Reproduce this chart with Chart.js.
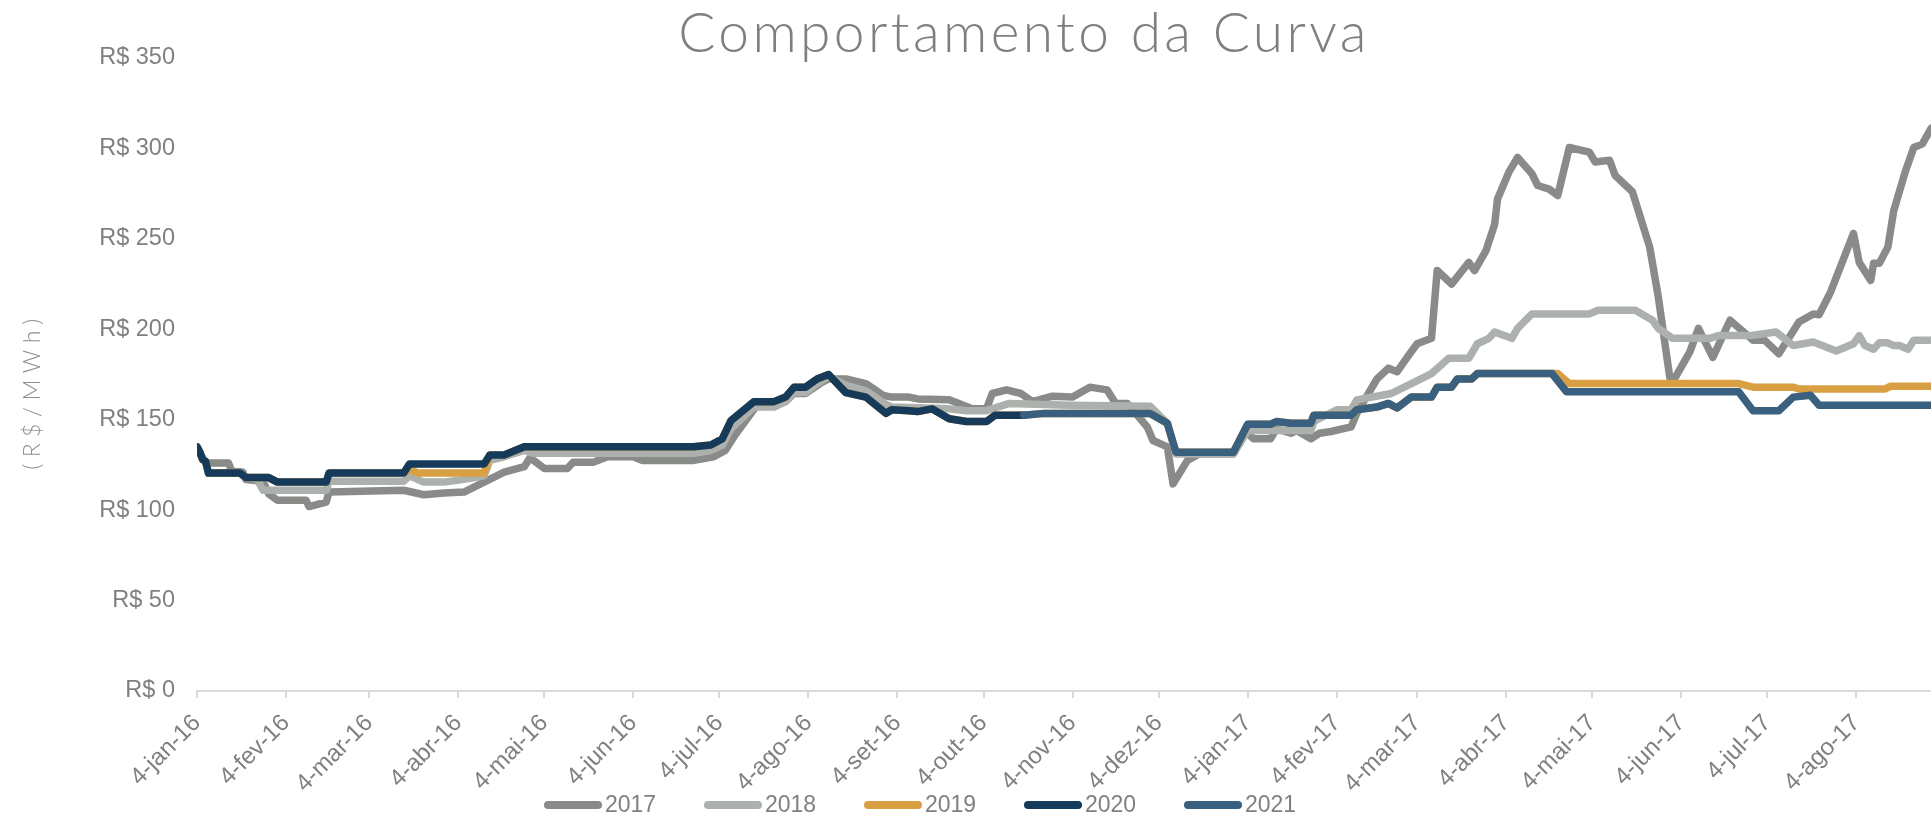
<!DOCTYPE html>
<html lang="pt-BR">
<head>
<meta charset="utf-8">
<title>Comportamento da Curva</title>
<script src="https://cdn.jsdelivr.net/npm/chart.js@4.4.1/dist/chart.umd.min.js"></script>
<style>
  html, body { margin: 0; padding: 0; background: #ffffff; }
  #box { width: 1931px; height: 819px; }
</style>
</head>
<body>
<div id="box"><canvas id="curva"></canvas></div>
<script>
// preços (R$/MWh) de cada produto anual ao longo das datas de negociação
const anos = ["2017", "2018", "2019", "2020", "2021"];
const cores = ["#898b88", "#adb1ad", "#d8a043", "#163a5a", "#3a607f"];

const rotulosX = ["4-jan-16", "4-fev-16", "4-mar-16", "4-abr-16", "4-mai-16", "4-jun-16",
  "4-jul-16", "4-ago-16", "4-set-16", "4-out-16", "4-nov-16", "4-dez-16",
  "4-jan-17", "4-fev-17", "4-mar-17", "4-abr-17", "4-mai-17", "4-jun-17",
  "4-jul-17", "4-ago-17"];

const serie2017 = [
  ["2016-01-04",135],["2016-01-05",132],["2016-01-06",128],["2016-01-07",127],["2016-01-08",126],
  ["2016-01-15",126],["2016-01-16",122],["2016-01-20",121],["2016-01-21",117],["2016-01-27",116],
  ["2016-01-29",109],["2016-02-01",105.5],["2016-02-11",105.5],["2016-02-12",102],["2016-02-18",104.5],
  ["2016-02-19",110],["2016-03-16",111],["2016-03-23",108.5],["2016-03-30",109.5],["2016-04-06",110],
  ["2016-04-13",115.5],["2016-04-20",121],["2016-04-27",124],["2016-04-29",129],["2016-05-04",123],
  ["2016-05-12",123],["2016-05-14",126.5],["2016-05-21",126.5],["2016-05-26",129.5],["2016-06-04",129.5],
  ["2016-06-07",127.5],["2016-06-25",127.5],["2016-07-02",129.5],["2016-07-06",133],["2016-07-09",140.5],
  ["2016-07-15",153.5],["2016-07-17",158],["2016-07-23",158],["2016-07-27",160],["2016-07-30",164.5],
  ["2016-08-03",164.5],["2016-08-08",170],["2016-08-11",172.5],["2016-08-17",172.5],["2016-08-24",170],
  ["2016-08-30",163.5],["2016-09-02",162.5],["2016-09-08",162.5],["2016-09-11",161.5],["2016-09-22",161],
  ["2016-09-30",156],["2016-10-05",156],["2016-10-07",164.5],["2016-10-12",166.5],["2016-10-17",164.5],
  ["2016-10-21",160],["2016-10-28",163],["2016-11-04",162.5],["2016-11-10",168],["2016-11-16",166.5],
  ["2016-11-19",159],["2016-11-23",159],["2016-11-30",146],["2016-12-02",138.5],["2016-12-07",135],
  ["2016-12-09",114.5],["2016-12-14",127.5],["2016-12-18",131],["2016-12-30",131],["2017-01-03",144],
  ["2017-01-06",139.5],["2017-01-12",139.5],["2017-01-14",145],["2017-01-19",142.5],["2017-01-21",144],
  ["2017-01-26",139.5],["2017-01-29",142.5],["2017-02-02",143.5],["2017-02-09",146],["2017-02-11",153.5],
  ["2017-02-13",159],["2017-02-18",172.5],["2017-02-22",178.5],["2017-02-25",176.5],["2017-03-01",185.5],
  ["2017-03-04",192],["2017-03-09",195],["2017-03-11",232.5],["2017-03-16",225],["2017-03-22",237],
  ["2017-03-24",232.5],["2017-03-28",243.5],["2017-03-31",258],["2017-04-01",272],["2017-04-05",287],
  ["2017-04-08",295],["2017-04-13",286],["2017-04-15",279.5],["2017-04-19",277.5],["2017-04-22",274],
  ["2017-04-26",300.5],["2017-05-03",298],["2017-05-05",292.5],["2017-05-10",293.5],["2017-05-12",285],
  ["2017-05-18",276],["2017-05-24",245.5],["2017-05-27",218],["2017-05-31",173.5],["2017-06-02",173.5],
  ["2017-06-07",187.5],["2017-06-10",200.5],["2017-06-15",184.5],["2017-06-21",205],["2017-06-29",194],
  ["2017-07-03",194],["2017-07-08",186.5],["2017-07-15",204],["2017-07-20",208.5],["2017-07-22",208],
  ["2017-07-26",220.5],["2017-08-03",253],["2017-08-05",237],["2017-08-09",227],["2017-08-10",236.5],
  ["2017-08-12",236.5],["2017-08-15",245.5],["2017-08-17",265.5],["2017-08-21",287],["2017-08-24",300.5],
  ["2017-08-27",302.5],["2017-08-30",311]
];

const serie2018 = [
  ["2016-01-04",135],["2016-01-05",132],["2016-01-06",128],["2016-01-07",127],["2016-01-08",120.5],
  ["2016-01-19",120.5],["2016-01-21",118],["2016-01-25",117],["2016-01-27",111],["2016-02-18",111],
  ["2016-02-19",116],["2016-03-16",116],["2016-03-18",119],["2016-03-23",115.5],["2016-03-30",115.5],
  ["2016-04-06",117],["2016-04-13",119],["2016-04-15",127.5],["2016-04-20",129.5],["2016-04-27",133],
  ["2016-04-30",131.5],["2016-06-25",131.5],["2016-07-01",133],["2016-07-05",136],["2016-07-08",145],
  ["2016-07-16",157],["2016-07-23",157],["2016-07-27",160],["2016-07-30",165],["2016-08-03",165],
  ["2016-08-07",170],["2016-08-11",174],["2016-08-17",169],["2016-08-24",166],["2016-08-31",158.5],
  ["2016-09-02",157],["2016-09-22",156],["2016-09-28",155],["2016-10-05",155],["2016-10-13",159],
  ["2016-11-03",158],["2016-12-01",157.5],["2016-12-07",148],["2016-12-10",131],["2016-12-30",131],
  ["2017-01-04",144],["2017-01-26",144],["2017-01-27",149],["2017-02-04",155.5],["2017-02-09",155.5],
  ["2017-02-11",161],["2017-02-23",164.5],["2017-03-02",170],["2017-03-09",175.5],["2017-03-15",184],
  ["2017-03-22",184],["2017-03-25",192],["2017-03-29",195],["2017-03-31",198.5],["2017-04-06",195],
  ["2017-04-08",200.5],["2017-04-13",208.5],["2017-05-03",208.5],["2017-05-06",210.5],["2017-05-19",210.5],
  ["2017-05-25",205],["2017-05-27",200.5],["2017-06-01",195],["2017-06-14",195],["2017-06-17",196.5],
  ["2017-06-28",196.5],["2017-07-07",198.5],["2017-07-13",191],["2017-07-20",193],["2017-07-28",188],
  ["2017-08-03",192],["2017-08-05",196.5],["2017-08-07",191],["2017-08-10",189],["2017-08-12",192.5],
  ["2017-08-15",192.5],["2017-08-17",191],["2017-08-19",191],["2017-08-22",189],["2017-08-24",194],
  ["2017-08-30",194]
];

const serie2019 = [
  ["2016-01-04",135],["2016-01-05",132],["2016-01-06",128],["2016-01-07",127],["2016-01-08",120.5],
  ["2016-01-19",120.5],["2016-01-21",118],["2016-01-29",118],["2016-02-01",115.5],["2016-02-18",115.5],
  ["2016-02-19",120.5],["2016-03-16",120.5],["2016-03-18",122.5],["2016-03-21",120.5],["2016-04-13",120.5],
  ["2016-04-15",130.5],["2016-04-20",130.5],["2016-04-27",135],["2016-06-25",135],["2016-07-01",136],
  ["2016-07-05",139.5],["2016-07-08",149.5],["2016-07-16",160],["2016-07-23",160],["2016-07-27",162.5],
  ["2016-07-30",168],["2016-08-03",168],["2016-08-07",172.5],["2016-08-11",175],["2016-08-17",165],
  ["2016-08-24",162.5],["2016-08-31",153.5],["2016-09-02",155.5],["2016-09-08",155],["2016-09-11",154.5],
  ["2016-09-16",156],["2016-09-22",150.5],["2016-09-28",149],["2016-10-05",149],["2016-10-08",152.5],
  ["2016-10-18",152.5],["2016-10-25",153.5],["2016-12-01",153.5],["2016-12-07",148],["2016-12-10",132],
  ["2016-12-30",132],["2017-01-04",147.5],["2017-01-12",147.5],["2017-01-14",149],["2017-01-19",148],
  ["2017-01-26",148],["2017-01-27",152.5],["2017-02-09",152.5],["2017-02-11",155.5],["2017-02-18",157],
  ["2017-02-22",159],["2017-02-25",156.5],["2017-03-02",162.5],["2017-03-09",162.5],["2017-03-11",168],
  ["2017-03-16",168],["2017-03-18",172.5],["2017-03-23",172.5],["2017-03-25",175.5],["2017-04-22",175.5],
  ["2017-04-26",170],["2017-06-24",170],["2017-06-29",168],["2017-07-13",168],["2017-07-15",167],
  ["2017-08-14",167],["2017-08-16",168.5],["2017-08-30",168.5]
];

const serie2020 = [
  ["2016-01-04",135],["2016-01-05",132],["2016-01-06",128],["2016-01-07",127],["2016-01-08",120.5],
  ["2016-01-19",120.5],["2016-01-21",118],["2016-01-29",118],["2016-02-01",115.5],["2016-02-18",115.5],
  ["2016-02-19",120.5],["2016-03-16",120.5],["2016-03-18",125.5],["2016-04-13",125.5],["2016-04-15",130.5],
  ["2016-04-20",130.5],["2016-04-27",135],["2016-06-25",135],["2016-07-01",136],["2016-07-05",139.5],
  ["2016-07-08",149.5],["2016-07-16",160],["2016-07-23",160],["2016-07-27",162.5],["2016-07-30",168],
  ["2016-08-03",168],["2016-08-07",172.5],["2016-08-11",175],["2016-08-17",165],["2016-08-24",162.5],
  ["2016-08-31",153.5],["2016-09-02",155.5],["2016-09-08",155],["2016-09-11",154.5],["2016-09-16",156],
  ["2016-09-22",150.5],["2016-09-28",149],["2016-10-05",149],["2016-10-08",152.5],["2016-10-18",152.5]
];

const serie2021 = [
  ["2016-10-18",152.5],["2016-10-25",153.5],["2016-12-01",153.5],["2016-12-07",148],["2016-12-10",132],
  ["2016-12-30",132],["2017-01-04",147.5],["2017-01-12",147.5],["2017-01-14",149],["2017-01-19",148],
  ["2017-01-26",148],["2017-01-27",152.5],["2017-02-09",152.5],["2017-02-11",155.5],["2017-02-18",157],
  ["2017-02-22",159],["2017-02-25",156.5],["2017-03-02",162.5],["2017-03-09",162.5],["2017-03-11",168],
  ["2017-03-16",168],["2017-03-18",172.5],["2017-03-23",172.5],["2017-03-25",175.5],["2017-04-20",175.5],
  ["2017-04-25",165.5],["2017-06-24",165.5],["2017-06-29",155],["2017-07-08",155],["2017-07-13",162.5],
  ["2017-07-19",163.5],["2017-07-22",158],["2017-08-30",158]
];

const series = [serie2017, serie2018, serie2019, serie2020, serie2021];

// eixo x em dias corridos desde 4-jan-16
const INICIO = Date.UTC(2016, 0, 4);
const FIM = "2017-08-30";
const meses = { jan: 0, fev: 1, mar: 2, abr: 3, mai: 4, jun: 5, jul: 6, ago: 7, set: 8, out: 9, nov: 10, dez: 11 };

function dia(s) {
  return (Date.parse(s) - INICIO) / 86400000;
}

function diaDoRotulo(r) {
  const [d, m, a] = r.split("-");
  return (Date.UTC(2000 + Number(a), meses[m], Number(d)) - INICIO) / 86400000;
}

const posTicks = rotulosX.map(diaDoRotulo);

const CINZA = "#808080";
const FONTE = "'Liberation Sans', Arial, sans-serif";

// título, nome do eixo y e legenda desenhados direto no canvas
const textos = {
  id: "textos",
  afterDraw(chart) {
    const ctx = chart.ctx;
    ctx.save();

    ctx.fillStyle = "#7f7f7f";
    ctx.font = "300 55px Lato";
    ctx.letterSpacing = "3.4px";
    ctx.textAlign = "center";
    ctx.textBaseline = "alphabetic";
    ctx.fillText("Comportamento da Curva", 1024, 52);

    ctx.save();
    ctx.translate(33, 391);
    ctx.rotate(-Math.PI / 2);
    ctx.font = "300 23px Lato";
    ctx.letterSpacing = "6.5px";
    ctx.fillStyle = "#8e8e8e";
    ctx.textAlign = "center";
    ctx.textBaseline = "middle";
    ctx.fillText("(R$/MWh)", 0, 0);
    ctx.restore();

    ctx.letterSpacing = "0px";
    ctx.font = "23px " + FONTE;
    ctx.textAlign = "left";
    ctx.textBaseline = "middle";
    const y = 805;
    chart.data.datasets.forEach((ds, i) => {
      const x0 = 544 + i * 160;
      ctx.strokeStyle = ds.borderColor;
      ctx.lineWidth = 8;
      ctx.lineCap = "round";
      ctx.beginPath();
      ctx.moveTo(x0 + 4, y);
      ctx.lineTo(x0 + 54, y);
      ctx.stroke();
      ctx.fillStyle = CINZA;
      ctx.fillText(ds.label, x0 + 61, y + 1);
    });

    ctx.restore();
  }
};

function desenhar() {
  Chart.defaults.font.family = FONTE;

  const datasets = series.map((s, i) => ({
    label: anos[i],
    data: s.map(p => ({ x: dia(p[0]), y: p[1] })),
    borderColor: cores[i],
    backgroundColor: cores[i],
    borderWidth: 7.5,
    pointRadius: 0,
    pointHoverRadius: 0,
    tension: 0,
    borderJoinStyle: "round",
    borderCapStyle: "round",
    order: series.length - i
  }));

  new Chart(document.getElementById("curva"), {
    type: "line",
    data: { datasets: datasets },
    plugins: [textos],
    options: {
      responsive: true,
      maintainAspectRatio: false,
      animation: false,
      devicePixelRatio: 1,
      layout: { padding: { top: 58, left: 0, right: 0, bottom: 0 } },
      plugins: {
        legend: { display: false },
        title: { display: false },
        tooltip: { enabled: false }
      },
      scales: {
        x: {
          type: "linear",
          min: 0,
          max: dia(FIM),
          afterBuildTicks: (s) => { s.ticks = posTicks.map(v => ({ value: v })); },
          afterFit: (s) => { s.height = 128; },
          ticks: {
            autoSkip: false,
            minRotation: 45,
            maxRotation: 45,
            padding: 11,
            color: CINZA,
            font: { size: 24 },
            callback: (v, i) => rotulosX[i]
          },
          grid: {
            drawOnChartArea: false,
            drawTicks: true,
            tickLength: 7,
            color: "#d9d9d9",
            lineWidth: 2
          },
          border: { color: "#d9d9d9", width: 2 }
        },
        y: {
          min: 0,
          max: 350,
          afterFit: (s) => { s.width = 197; },
          ticks: {
            stepSize: 50,
            padding: 22,
            color: CINZA,
            font: { size: 23.5 },
            callback: v => "R$ " + v
          },
          grid: { display: false, drawTicks: false },
          border: { display: false }
        }
      }
    }
  });
}

document.fonts.load("300 55px Lato").then(desenhar, desenhar);
</script>
</body>
</html>
